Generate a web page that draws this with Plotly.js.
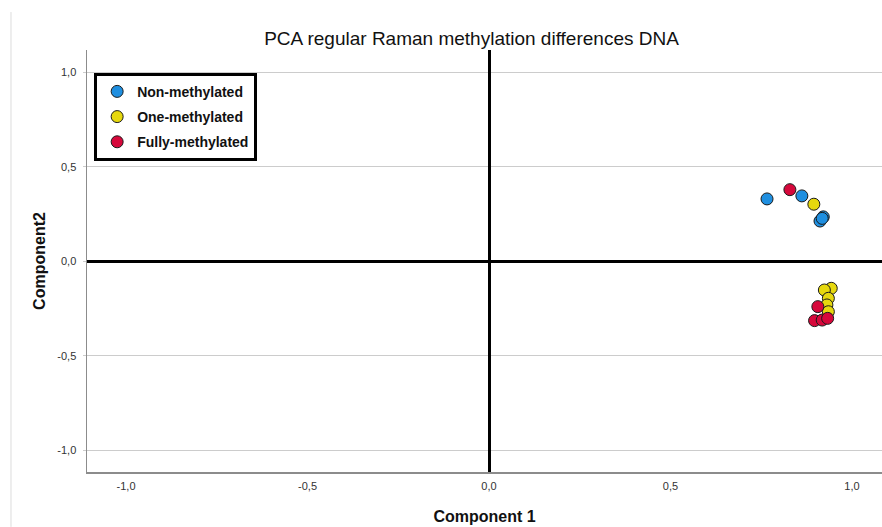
<!DOCTYPE html>
<html>
<head>
<meta charset="utf-8">
<script src="https://cdn.plot.ly/plotly-3.0.1.min.js"></script>
<style>
  html, body { margin: 0; padding: 0; background: #fff; }
  #chart { width: 882px; height: 527px; }
</style>
</head>
<body>
<div id="chart"></div>
<script>
// Component loadings per methylation group
const nonX = [0.766, 0.862, 0.921, 0.912, 0.918];
const nonY = [0.331, 0.347, 0.236, 0.214, 0.228];

const oneX = [0.895, 0.943, 0.924, 0.935, 0.931, 0.935];
const oneY = [0.303, -0.142, -0.151, -0.195, -0.230, -0.266];

const fullX = [0.829, 0.906, 0.897, 0.918, 0.933];
const fullY = [0.380, -0.239, -0.313, -0.310, -0.301];

const groupNames = ['Non-methylated', 'One-methylated', 'Fully-methylated'];
const groupColors = ['#1f8fe0', '#e6d80e', '#d6083b'];

const tickVals = [-1, -0.5, 0, 0.5, 1];
const tickText = ['-1,0', '-0,5', '0,0', '0,5', '1,0'];

const series = [[nonX, nonY], [oneX, oneY], [fullX, fullY]];

const traces = series.map(([xs, ys], i) => ({
  type: 'scatter',
  mode: 'markers',
  x: xs,
  y: ys,
  name: groupNames[i],
  legendgroup: 'g' + i,
  marker: {
    size: 12,
    color: groupColors[i],
    line: { color: '#1a1a1a', width: 1 }
  },
  hoverinfo: 'x+y+name'
}));

const layout = {
  width: 882,
  height: 527,
  margin: { l: 87, r: 0, t: 50, b: 55 },
  paper_bgcolor: '#ffffff',
  plot_bgcolor: '#ffffff',
  font: { family: 'Liberation Sans, Arial, sans-serif', color: '#222' },
  title: {
    text: 'PCA regular Raman methylation differences DNA',
    font: { size: 19, color: '#111' },
    xref: 'container', x: 0.5346, xanchor: 'center',
    yref: 'container', y: 0.928, yanchor: 'middle'
  },
  showlegend: true,
  legend: {
    x: 0.009, y: 0.946, xanchor: 'left', yanchor: 'top',
    bgcolor: '#ffffff',
    bordercolor: '#000000',
    borderwidth: 3,
    font: { size: 14, color: '#111', family: 'Liberation Sans, Arial, sans-serif', weight: 'bold' },
    tracegroupgap: 4,
    traceorder: 'grouped',
    itemwidth: 30
  },
  xaxis: {
    range: [-1.1076, 1.0828],
    tickvals: tickVals,
    ticktext: tickText,
    tickfont: { size: 11, color: '#333' },
    ticklabelstandoff: 3,
    showgrid: false,
    zeroline: true,
    zerolinecolor: '#000000',
    zerolinewidth: 3,
    showline: true,
    linecolor: '#8c8c8c',
    linewidth: 1.5,
    ticks: '',
    title: {
      text: 'Component 1',
      font: { size: 16, color: '#111', weight: 'bold' },
      standoff: 20
    },
    automargin: false,
    fixedrange: true
  },
  yaxis: {
    range: [-1.114, 1.119],
    tickvals: tickVals,
    ticktext: tickText,
    tickfont: { size: 11, color: '#333' },
    showgrid: true,
    gridcolor: '#cccccc',
    gridwidth: 1,
    zeroline: true,
    zerolinecolor: '#000000',
    zerolinewidth: 3,
    showline: true,
    linecolor: '#8c8c8c',
    linewidth: 1.5,
    ticks: 'outside',
    ticklen: 3,
    tickcolor: '#cccccc',
    ticklabelstandoff: 4,
    title: {
      text: 'Component2',
      font: { size: 16, color: '#111', weight: 'bold' },
      standoff: 7
    },
    automargin: false,
    fixedrange: true
  },
  shapes: [
    {
      type: 'line', xref: 'paper', yref: 'paper',
      x0: -0.0956, x1: -0.0956, y0: -0.13, y1: 1.09,
      line: { color: '#dddddd', width: 1 }
    }
  ]
};

Plotly.newPlot('chart', traces, layout, { displayModeBar: false, staticPlot: true });
</script>
</body>
</html>
